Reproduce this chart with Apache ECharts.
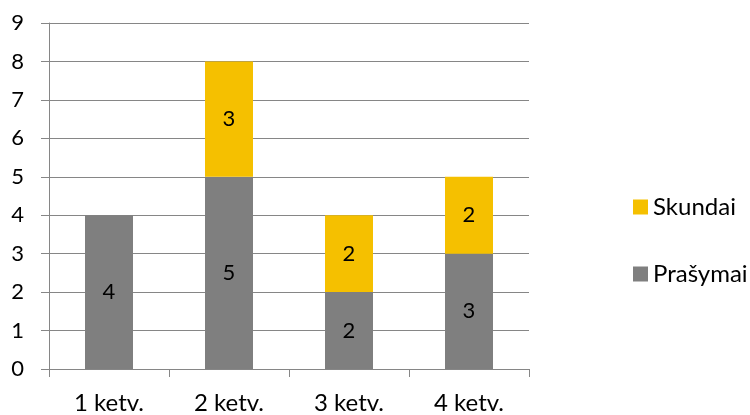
<!DOCTYPE html>
<html><head><meta charset="utf-8">
<script src="https://cdn.jsdelivr.net/npm/echarts@6/dist/echarts.min.js"></script>
<style>html,body{margin:0;padding:0;background:#fff}#c{width:750px;height:415px}</style>
</head><body><div id="c"></div>
<script>
const categories = ['1 ketv.', '2 ketv.', '3 ketv.', '4 ketv.'];
const prasymai = [4, 5, 2, 3];
const skundai = [null, 3, 2, 2];
const yTicks = {min: 0, max: 9, interval: 1};

const font = 'Lato, "Noto Sans", sans-serif';
const chart = echarts.init(document.getElementById('c'), null, {renderer: 'canvas'});
const lbl = {show: true, position: 'inside', color: '#000', fontSize: 22, fontFamily: font,
  formatter: p => (p.value == null ? '' : p.value)};
chart.setOption({
  animation: false,
  textStyle: {fontFamily: font},
  grid: {left: 49, right: 221, top: 23, bottom: 42, containLabel: false},
  legend: {
    orient: 'vertical', left: 628, top: 190, itemGap: 43,
    itemWidth: 15, itemHeight: 15, icon: 'rect',
    textStyle: {fontSize: 24, color: '#000', fontFamily: font},
    data: ['Skundai', 'Prašymai']
  },
  xAxis: {
    type: 'category', data: categories,
    axisLine: {lineStyle: {color: '#868686', width: 1}},
    axisTick: {show: true, length: 8, lineStyle: {color: '#868686'}},
    axisLabel: {fontSize: 24, color: '#000', margin: 22, fontFamily: font}
  },
  yAxis: {
    type: 'value', min: yTicks.min, max: yTicks.max, interval: yTicks.interval,
    axisLine: {show: true, lineStyle: {color: '#868686'}},
    axisTick: {show: true, length: 8, lineStyle: {color: '#868686'}},
    splitLine: {lineStyle: {color: '#868686', width: 1}},
    axisLabel: {fontSize: 22, color: '#000', margin: 25, fontFamily: font}
  },
  series: [
    {name: 'Prašymai', type: 'bar', stack: 's', data: prasymai, barWidth: 48,
     itemStyle: {color: '#7f7f7f'}, label: lbl},
    {name: 'Skundai', type: 'bar', stack: 's', data: skundai, barWidth: 48,
     itemStyle: {color: '#f5c000'}, label: lbl}
  ]
});
</script></body></html>
